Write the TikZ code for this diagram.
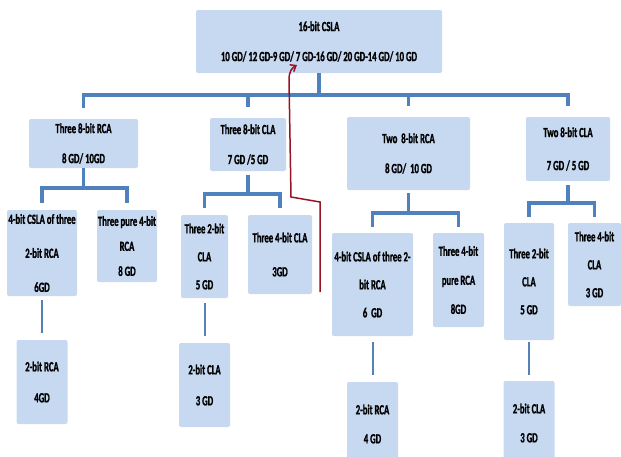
\documentclass[tikz,border=0pt]{standalone}
\usepackage{fontspec}
\setmainfont{Carlito}[FakeStretch=0.62,FakeBold=1.2]
\usetikzlibrary{arrows.meta}
\definecolor{boxblue}{RGB}{198,217,241}
\definecolor{linkblue}{RGB}{79,129,189}
\definecolor{markred}{RGB}{150,20,35}
\newcommand{\gdfont}[1]{\bfseries\fontsize{14}{#1}\selectfont}

\begin{document}
\begin{tikzpicture}[x=1pt,y=-1pt]
\par
\tikzstyle{gdbox}=[fill=boxblue, rounded corners=2pt, inner sep=0pt, align=center, font=\gdfont{30}]
\tikzstyle{link}=[draw=linkblue, line width=3.5pt]
\tikzstyle{stem}=[draw=linkblue!85!gray, line width=2pt]
\useasboundingbox (0,0) rectangle (621,456);
\clip (0,0) rectangle (621,456);
\par
\node (top) at (319,41.5) [gdbox, minimum width=246pt, minimum height=63pt]
      {16-bit CSLA\\10 GD/ 12 GD-9 GD/ 7 GD-16 GD/ 20 GD-14 GD/ 10 GD};
\node (r8) at (83.5,143.5) [gdbox, minimum width=109pt, minimum height=49pt] {Three 8-bit RCA\\8 GD/ 10GD};
\node (c8) at (248,144.5) [gdbox, minimum width=76pt, minimum height=53pt] {Three 8-bit CLA\\7 GD /5 GD};
\node (tr8) at (408.5,153.5) [gdbox, minimum width=123pt, minimum height=73pt] {Two\ \ 8-bit RCA\\8 GD/\ \ 10 GD};
\node (tc8) at (568,149) [gdbox, minimum width=84pt, minimum height=64pt, font=\gdfont{33}] {Two 8-bit CLA\\7 GD / 5 GD};
\par
\node (cs4a) at (42,253) [gdbox, minimum width=70pt, minimum height=86pt, font=\gdfont{34}] {4-bit CSLA of three\\2-bit RCA\\6GD};
\node (pr4a) at (127,246) [gdbox, minimum width=60pt, minimum height=72pt, font=\gdfont{25}] {Three pure 4-bit\\RCA\\8 GD};
\node (c2a) at (204.5,256.5) [gdbox, minimum width=47pt, minimum height=83pt, font=\gdfont{28}] {Three 2-bit\\CLA\\5 GD};
\node (c4a) at (280,254.5) [gdbox, minimum width=64pt, minimum height=79pt, font=\gdfont{34}] {Three 4-bit CLA\\3GD};
\node (cs4b) at (372.5,284.5) [gdbox, minimum width=81pt, minimum height=103pt, font=\gdfont{28}] {4-bit CSLA of three 2-\\bit RCA\\6\ \ GD};
\node (pr4b) at (458.5,280) [gdbox, minimum width=51pt, minimum height=94pt, font=\gdfont{29}] {Three 4-bit\\pure RCA\\8GD};
\node (c2b) at (529,281.5) [gdbox, minimum width=50pt, minimum height=117pt, font=\gdfont{28}] {Three 2-bit\\CLA\\5 GD};
\node (c4b) at (594.5,264.5) [gdbox, minimum width=53pt, minimum height=83pt, font=\gdfont{28}] {Three 4-bit\\CLA\\3 GD};
\par
\node (r2a) at (42,382) [gdbox, minimum width=51pt, minimum height=84pt, font=\gdfont{31}] {2-bit RCA\\4GD};
\node (cl2a) at (204.5,385) [gdbox, minimum width=51pt, minimum height=84pt, font=\gdfont{31}] {2-bit CLA\\3 GD};
\node (r2b) at (372.5,424) [gdbox, minimum width=51pt, minimum height=84pt, font=\gdfont{29}] {2-bit RCA\\4 GD};
\node (cl2b) at (529,423) [gdbox, minimum width=51pt, minimum height=84pt, font=\gdfont{29}] {2-bit CLA\\3 GD};
\par
\coordinate (bus) at (319,95);
\draw[link] (top.south) -- (bus);
\foreach \n in {r8,c8,tr8,tc8}
  \draw[link, shorten >=11pt] (bus) -| (\n.north);
\par
\draw[link] (r8.south) -- ++(0,20) coordinate (r8bus);
\draw[link, shorten <=7pt, shorten >=7pt] (cs4a.north) |- (r8bus) -| (pr4a.north);
\draw[link, shorten <=4pt] (c8.south) -- ++(0,23) coordinate (c8bus);
\draw[link, shorten <=7pt, shorten >=7pt] (c2a.north) |- (c8bus) -| (c4a.north);
\draw[link, shorten <=3pt] (tr8.south) -- ++(0,23) coordinate (tr8bus);
\draw[link, shorten <=6pt, shorten >=6pt] (cs4b.north) |- (tr8bus) -| (pr4b.north);
\draw[link, shorten <=4pt] (tc8.south) -- ++(0,22) coordinate (tc8bus);
\draw[link, shorten <=6pt, shorten >=6pt] (c2b.north) |- (tc8bus) -| (c4b.north);
\par
\draw[stem, shorten <=4pt, shorten >=7pt] (cs4a.south) -- (r2a.north);
\draw[stem, shorten <=5pt, shorten >=7pt] (c2a.south) -- (cl2a.north);
\draw[stem, shorten <=6pt, shorten >=7pt] (cs4b.south) -- (r2b.north);
\draw[stem, shorten <=2pt, shorten >=6pt] (c2b.south) -- (cl2b.north);
\par
\coordinate (markfoot) at (320,292);
\coordinate (marktip) at (297,65);
\draw[markred, line width=1.5pt, -{Straight Barb[length=5pt,width=8pt]}]
   (markfoot) -- (320,202) -- (291,197) -- (289,80) .. controls (289,71) and (292,68) .. (marktip);
\par
\end{tikzpicture}
\end{document}
